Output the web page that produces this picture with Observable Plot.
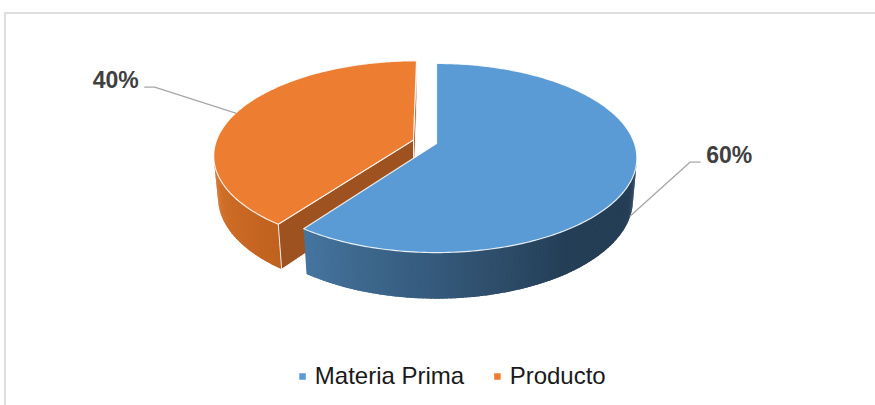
<!DOCTYPE html>
<html>
<head>
<meta charset="utf-8">
<script src="https://cdn.jsdelivr.net/npm/d3@7"></script>
<script src="https://cdn.jsdelivr.net/npm/@observablehq/plot@0.6"></script>
<style>
  html, body { margin: 0; padding: 0; background: #ffffff; }
  #wrap { position: relative; width: 875px; height: 405px; overflow: hidden; }
  #wrap svg { position: absolute; left: 0; top: 0; }
  #frame { position: absolute; left: 4px; top: 12px; width: 920px; height: 440px;
           border: 2px solid #DEDEDE; box-sizing: border-box; pointer-events: none; }
</style>
</head>
<body>
<div id="wrap"><div id="frame"></div></div>
<script>
// ---------------- data ----------------
const categories = ["Materia Prima", "Producto"];
const values = [60, 40];
const labels = ["60%", "40%"];
const topColors = ["#5B9BD5", "#ED7D31"];
const wallDarkColors = ["#243E56", "#9F4106"];
const wallLightColors = ["#5C9BD2", "#D8772F"];
const sideColors = ["#2F5274", "#9E521F"];
const explodeBy = [0, 0.123];

// ---------------- layout ----------------
const W = 875, H = 405;
const view = {cx: 436, cy: 143, k0: 198, dist: 5.77, tilt: 27.8, depth: 0.24};
const shadeFrom = 145, shadeTo = 265;
const labelAnchorDepth = [1, 0];
const labelElbow = [[60, -54], [-81, -26]];
const labelTail = 10, labelGap = 6, labelFont = 23;
const legendY = 376, legendCenter = 452, legendSwatch = 6.5, legendSwatchGap = 9, legendItemGap = 30, legendFont = 24;
const FONT = "'Liberation Sans', Arial, sans-serif";

// ---------------- projection ----------------
const rad = d => d * Math.PI / 180;
const sn = Math.sin(rad(view.tilt)), cs = Math.cos(rad(view.tilt));
const focal = view.k0 * view.dist;
const cam = [0, view.dist * cs, view.dist * sn];
function proj([X, Y, Z]) {
  const t = Y * cs + Z * sn, up = -Y * sn + Z * cs, k = focal / (view.dist - t);
  return {x: view.cx + X * k, y: view.cy - up * k};
}
function facing(n, P) {
  return n[0] * (cam[0] - P[0]) + n[1] * (cam[1] - P[1]) + n[2] * (cam[2] - P[2]) > 1e-6;
}

// ---------------- pie layout ----------------
const total = d3.sum(values);
let acc = 0;
const slices = values.map((v, i) => {
  const a0 = acc / total * 360; acc += v; const a1 = acc / total * 360;
  const mid = (a0 + a1) / 2;
  return {i, a0, a1, mid, ox: explodeBy[i] * Math.sin(rad(mid)), oy: -explodeBy[i] * Math.cos(rad(mid))};
});
const rimW = (s, a, z) => [s.ox + Math.sin(rad(a)), s.oy - Math.cos(rad(a)), z];
const ctrW = (s, z) => [s.ox, s.oy, z];
const dirN = a => [Math.sin(rad(a)), -Math.cos(rad(a)), 0];
const hz = -view.depth;

function polyRows(id, pts, extra) {
  const rows = pts.map(p => ({id, ...proj(p), ...extra}));
  rows.push({...rows[0]});
  return rows;
}

const marks = [];
const order = [...slices].sort((a, b) => (-Math.cos(rad(a.mid))) - (-Math.cos(rad(b.mid))));
for (const s of order) {
  const i = s.i;
  // outer wall strips (overlapping slightly to hide seams)
  const wall = [];
  const step = 1;
  for (let a = s.a0, j = 0; a < s.a1 - 1e-9; a += step, j++) {
    const b = Math.min(a + step * 1.8, s.a1), am = (a + Math.min(a + step, s.a1)) / 2;
    if (!facing(dirN(am), rimW(s, am, 0))) continue;
    const t = Math.max(0, Math.min(1, (am - shadeFrom) / (shadeTo - shadeFrom)));
    const c = d3.interpolateRgb(wallDarkColors[i], wallLightColors[i])(t);
    wall.push(...polyRows(`w${i}-${j}`, [rimW(s, a, 0), rimW(s, b, 0), rimW(s, b, hz), rimW(s, a, hz)], {c}));
  }
  marks.push(Plot.line(wall, {x: "x", y: "y", z: "id", fill: "c", stroke: null, curve: "linear"}));
  // radial faces
  const sides = [];
  const faces = [[s.a0, s.a0 - 90], [s.a1, s.a1 + 90]];
  faces.forEach(([a, na], k) => {
    const P = [(s.ox + rimW(s, a, 0)[0]) / 2, (s.oy + rimW(s, a, 0)[1]) / 2, hz / 2];
    if (!facing(dirN(na), P)) return;
    sides.push(...polyRows(`s${i}-${k}`, [ctrW(s, 0), rimW(s, a, 0), rimW(s, a, hz), ctrW(s, hz)], {}));
  });
  if (sides.length) marks.push(Plot.line(sides, {x: "x", y: "y", z: "id", fill: sideColors[i], stroke: "white", strokeWidth: 1, strokeOpacity: 0.85, curve: "linear"}));
  // top face
  const topPts = [ctrW(s, 0)];
  for (let a = s.a0; a < s.a1; a += 1) topPts.push(rimW(s, a, 0));
  topPts.push(rimW(s, s.a1, 0));
  marks.push(Plot.line(polyRows(`t${i}`, topPts, {}), {x: "x", y: "y", z: "id", fill: topColors[i], stroke: "white", strokeWidth: 1.2, strokeOpacity: 0.85, curve: "linear"}));
}

// data labels with leader lines
slices.forEach(s => {
  const i = s.i;
  const anchor = proj(rimW(s, s.mid, -labelAnchorDepth[i] * view.depth));
  const elbow = {x: anchor.x + labelElbow[i][0], y: anchor.y + labelElbow[i][1]};
  const sign = labelElbow[i][0] < 0 ? -1 : 1;
  const tail = {x: elbow.x + sign * labelTail, y: elbow.y};
  marks.push(Plot.line([anchor, elbow, tail], {x: "x", y: "y", stroke: "#A6A6A6", strokeWidth: 1.3, curve: "linear"}));
  marks.push(Plot.text([{x: tail.x + sign * labelGap, y: elbow.y, t: labels[i]}], {
    x: "x", y: "y", text: "t", textAnchor: sign < 0 ? "end" : "start", lineAnchor: "middle",
    dy: -6.5, fontSize: labelFont, fontWeight: "bold", fill: "#404040"
  }));
});

// legend
const ctx = document.createElement("canvas").getContext("2d");
ctx.font = `${legendFont}px ${FONT}`;
const widths = categories.map(c => ctx.measureText(c).width);
const legendTotal = categories.length * (legendSwatch + legendSwatchGap) + d3.sum(widths) + (categories.length - 1) * legendItemGap;
let lx = legendCenter - legendTotal / 2;
const legendRows = categories.map((c, i) => {
  const row = {sx: lx + legendSwatch / 2, tx: lx + legendSwatch + legendSwatchGap, y: legendY, c, col: topColors[i]};
  lx += legendSwatch + legendSwatchGap + widths[i] + legendItemGap;
  return row;
});
marks.push(Plot.dot(legendRows, {x: "sx", y: "y", symbol: "square", r: legendSwatch / Math.sqrt(Math.PI), fill: "col", stroke: null}));
marks.push(Plot.text(legendRows, {x: "tx", y: "y", text: "c", textAnchor: "start", lineAnchor: "middle", fontSize: legendFont, fill: "#1a1a1a"}));

const chart = Plot.plot({
  width: W, height: H, margin: 0,
  x: {domain: [0, W], range: [0, W], axis: null},
  y: {domain: [0, H], range: [0, H], axis: null},
  color: {type: "identity"},
  style: {background: "transparent", fontFamily: FONT, overflow: "visible"},
  marks
});
document.getElementById("wrap").insertBefore(chart, document.getElementById("frame"));
</script>
</body>
</html>
